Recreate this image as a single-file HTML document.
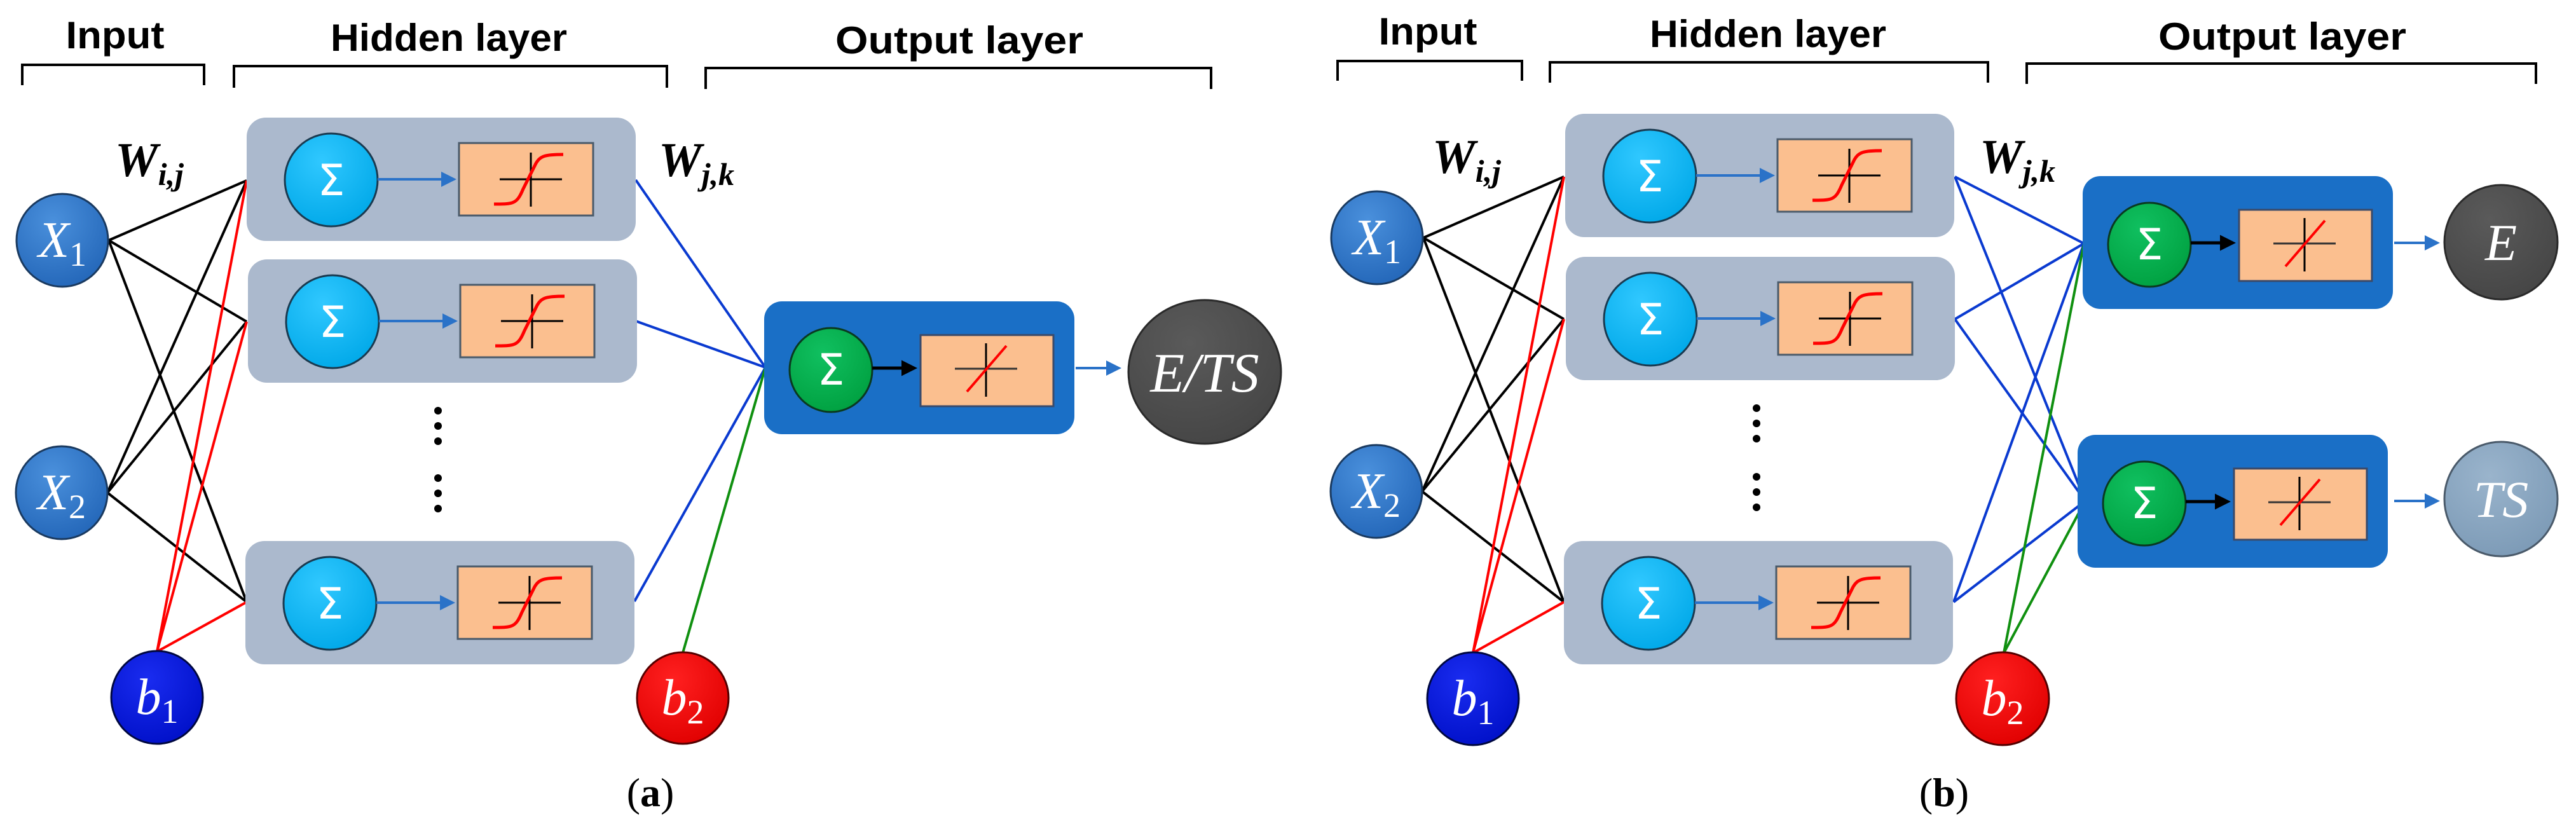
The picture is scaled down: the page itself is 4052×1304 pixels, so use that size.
<!DOCTYPE html>
<html><head><meta charset="utf-8"><style>
html,body{margin:0;padding:0;background:#fff;}
svg{display:block;}
.hd{font-family:"Liberation Sans",sans-serif;font-weight:bold;font-size:60px;fill:#000;}
.sig{font-family:"DejaVu Sans",sans-serif;font-size:68px;fill:#fff;}
.var{font-family:"Liberation Serif",serif;font-style:italic;fill:#fff;}
.sub{font-style:normal;}
.cap{font-family:"Liberation Serif",serif;font-size:64px;fill:#000;}
.w{font-family:"Liberation Serif",serif;font-style:italic;font-weight:bold;fill:#000;}
</style></head><body>
<svg width="4052" height="1304" viewBox="0 0 4052 1304" xmlns="http://www.w3.org/2000/svg">
<defs>
<radialGradient id="gx" cx="0.4" cy="0.3" r="0.75"><stop offset="0" stop-color="#4a90dc"/><stop offset="1" stop-color="#2366b8"/></radialGradient>
<radialGradient id="gs" cx="0.4" cy="0.3" r="0.75"><stop offset="0" stop-color="#30c8ff"/><stop offset="1" stop-color="#00a8e8"/></radialGradient>
<radialGradient id="gg" cx="0.4" cy="0.3" r="0.75"><stop offset="0" stop-color="#10c060"/><stop offset="1" stop-color="#00a040"/></radialGradient>
<radialGradient id="gb" cx="0.4" cy="0.3" r="0.75"><stop offset="0" stop-color="#1a2cf0"/><stop offset="1" stop-color="#0010c8"/></radialGradient>
<radialGradient id="gr" cx="0.4" cy="0.3" r="0.75"><stop offset="0" stop-color="#ff2020"/><stop offset="1" stop-color="#e00000"/></radialGradient>
<radialGradient id="gd" cx="0.4" cy="0.3" r="0.75"><stop offset="0" stop-color="#5a5a5a"/><stop offset="1" stop-color="#454545"/></radialGradient>
<radialGradient id="gt" cx="0.4" cy="0.3" r="0.75"><stop offset="0" stop-color="#9ab4cc"/><stop offset="1" stop-color="#7c9ab6"/></radialGradient>
<marker id="ab" markerWidth="6" markerHeight="6" refX="5" refY="3" orient="auto" markerUnits="strokeWidth"><path d="M0,0 L6,3 L0,6 Z" fill="#2a72c8"/></marker>
<marker id="ak" markerWidth="5" markerHeight="5" refX="4" refY="2.5" orient="auto" markerUnits="strokeWidth"><path d="M0,0 L5,2.5 L0,5 Z" fill="#000"/></marker>
<g id="hid">
  <rect x="0" y="0" width="612" height="194" rx="30" fill="#abb9cd"/>
  <ellipse cx="133" cy="98" rx="73" ry="73" fill="url(#gs)" stroke="#1a3a50" stroke-width="3"/>
  <text x="133" y="122" text-anchor="middle" class="sig">Σ</text>
  <line x1="206" y1="97" x2="326" y2="97" stroke="#2a72c8" stroke-width="4" marker-end="url(#ab)"/>
  <rect x="334" y="40" width="211" height="114" fill="#fbbf8f" stroke="#4a5a6a" stroke-width="3"/>
  <line x1="398" y1="97" x2="496" y2="97" stroke="#000" stroke-width="3"/>
  <line x1="447" y1="55" x2="447" y2="140" stroke="#000" stroke-width="3"/>
  <path d="M389,136 C420,136 425,136 435,112 L455,72 C462,60 470,58 498,58" fill="none" stroke="#f00" stroke-width="5"/>
</g>
<g id="out">
  <rect x="0" y="0" width="488" height="209" rx="28" fill="#1a6fc6"/>
  <ellipse cx="105" cy="108" rx="65" ry="66" fill="url(#gg)" stroke="#0a3a20" stroke-width="3"/>
  <text x="105" y="131" text-anchor="middle" class="sig">Σ</text>
  <line x1="170" y1="105" x2="236" y2="105" stroke="#000" stroke-width="5" marker-end="url(#ak)"/>
  <rect x="246" y="53" width="209" height="112" fill="#fbbf8f" stroke="#3a4a6a" stroke-width="3"/>
  <line x1="300" y1="106" x2="398" y2="106" stroke="#333" stroke-width="3"/>
  <line x1="349" y1="66" x2="349" y2="150" stroke="#000" stroke-width="3"/>
  <line x1="319" y1="142" x2="381" y2="70" stroke="#f00" stroke-width="4"/>
</g>
</defs>

<!-- ============ PANEL A ============ -->
<text x="181" y="76" text-anchor="middle" class="hd" textLength="155" lengthAdjust="spacingAndGlyphs">Input</text>
<path d="M35,134 V102 H321 V134" fill="none" stroke="#000" stroke-width="4"/>
<text x="706" y="80" text-anchor="middle" class="hd" textLength="372" lengthAdjust="spacingAndGlyphs">Hidden layer</text>
<path d="M368,138 V104 H1049 V138" fill="none" stroke="#000" stroke-width="4"/>
<text x="1509" y="84" text-anchor="middle" class="hd" textLength="390" lengthAdjust="spacingAndGlyphs">Output  layer</text>
<path d="M1110,140 V107 H1905 V140" fill="none" stroke="#000" stroke-width="4"/>

<text x="181" y="277" class="w" font-size="76">W<tspan font-size="50" dy="14">i,j</tspan></text>
<text x="1036" y="277" class="w" font-size="76">W<tspan font-size="50" dy="14">j,k</tspan></text>

<g stroke="#000" stroke-width="4">
<line x1="171" y1="378" x2="388" y2="284"/><line x1="171" y1="378" x2="388" y2="506"/><line x1="171" y1="378" x2="388" y2="947"/>
<line x1="169" y1="775" x2="388" y2="284"/><line x1="169" y1="775" x2="388" y2="506"/><line x1="169" y1="775" x2="388" y2="947"/>
</g>
<g stroke="#f00" stroke-width="4">
<line x1="247" y1="1025" x2="388" y2="284"/><line x1="247" y1="1025" x2="388" y2="506"/><line x1="247" y1="1025" x2="388" y2="947"/>
</g>
<g stroke="#0a3ad0" stroke-width="4">
<line x1="1000" y1="283" x2="1204" y2="578"/><line x1="1000" y1="505" x2="1204" y2="578"/><line x1="998" y1="946" x2="1204" y2="578"/>
</g>
<line x1="1074" y1="1027" x2="1204" y2="578" stroke="#109010" stroke-width="4"/>

<use href="#hid" x="388" y="185"/>
<use href="#hid" x="390" y="408"/>
<use href="#hid" x="386" y="851"/>
<g fill="#000"><circle cx="689" cy="646" r="6"/><circle cx="689" cy="670" r="6"/><circle cx="689" cy="694" r="6"/>
<circle cx="689" cy="752" r="6"/><circle cx="689" cy="776" r="6"/><circle cx="689" cy="800" r="6"/></g>

<ellipse cx="98" cy="378" rx="72" ry="73" fill="url(#gx)" stroke="#1a3a60" stroke-width="3"/>
<text x="98" y="404" text-anchor="middle" class="var" font-size="80">X<tspan class="sub" font-size="54" dy="14">1</tspan></text>
<ellipse cx="97" cy="775" rx="72" ry="73" fill="url(#gx)" stroke="#1a3a60" stroke-width="3"/>
<text x="97" y="801" text-anchor="middle" class="var" font-size="80">X<tspan class="sub" font-size="54" dy="14">2</tspan></text>
<ellipse cx="247" cy="1097" rx="72" ry="73" fill="url(#gb)" stroke="#000840" stroke-width="3"/>
<text x="247" y="1123" text-anchor="middle" class="var" font-size="80">b<tspan class="sub" font-size="54" dy="14">1</tspan></text>
<ellipse cx="1074" cy="1098" rx="72" ry="72" fill="url(#gr)" stroke="#500" stroke-width="3"/>
<text x="1074" y="1124" text-anchor="middle" class="var" font-size="80">b<tspan class="sub" font-size="54" dy="14">2</tspan></text>

<use href="#out" x="1202" y="474"/>
<line x1="1692" y1="579" x2="1760" y2="579" stroke="#2a72c8" stroke-width="4" marker-end="url(#ab)"/>
<ellipse cx="1895" cy="585" rx="120" ry="113" fill="url(#gd)" stroke="#2a2a2a" stroke-width="3"/>
<text x="1895" y="616" text-anchor="middle" class="var" font-size="88">E/TS</text>

<text x="1023" y="1268" text-anchor="middle" class="cap">(<tspan font-weight="bold">a</tspan>)</text>

<!-- ============ PANEL B ============ -->
<text x="2246" y="70" text-anchor="middle" class="hd" textLength="155" lengthAdjust="spacingAndGlyphs">Input</text>
<path d="M2104,127 V96 H2394 V127" fill="none" stroke="#000" stroke-width="4"/>
<text x="2781" y="74" text-anchor="middle" class="hd" textLength="372" lengthAdjust="spacingAndGlyphs">Hidden layer</text>
<path d="M2438,130 V98 H3127 V130" fill="none" stroke="#000" stroke-width="4"/>
<text x="3590" y="78" text-anchor="middle" class="hd" textLength="390" lengthAdjust="spacingAndGlyphs">Output  layer</text>
<path d="M3188,132 V100 H3989 V132" fill="none" stroke="#000" stroke-width="4"/>

<text x="2253" y="272" class="w" font-size="76">W<tspan font-size="50" dy="14">i,j</tspan></text>
<text x="3114" y="272" class="w" font-size="76">W<tspan font-size="50" dy="14">j,k</tspan></text>

<g stroke="#000" stroke-width="4">
<line x1="2239" y1="374" x2="2460" y2="278"/><line x1="2239" y1="374" x2="2460" y2="502"/><line x1="2239" y1="374" x2="2460" y2="947"/>
<line x1="2237" y1="773" x2="2460" y2="278"/><line x1="2237" y1="773" x2="2460" y2="502"/><line x1="2237" y1="773" x2="2460" y2="947"/>
</g>
<g stroke="#f00" stroke-width="4">
<line x1="2317" y1="1027" x2="2460" y2="278"/><line x1="2317" y1="1027" x2="2460" y2="502"/><line x1="2317" y1="1027" x2="2460" y2="947"/>
</g>
<g stroke="#0a3ad0" stroke-width="4">
<line x1="3075" y1="278" x2="3278" y2="383"/><line x1="3075" y1="502" x2="3278" y2="383"/><line x1="3073" y1="947" x2="3278" y2="383"/>
<line x1="3075" y1="278" x2="3280" y2="788"/><line x1="3075" y1="502" x2="3280" y2="788"/><line x1="3073" y1="947" x2="3280" y2="788"/>
</g>
<g stroke="#109010" stroke-width="4">
<line x1="3152" y1="1027" x2="3278" y2="383"/><line x1="3152" y1="1027" x2="3280" y2="788"/>
</g>

<use href="#hid" x="2462" y="179"/>
<use href="#hid" x="2463" y="404"/>
<use href="#hid" x="2460" y="851"/>
<g fill="#000"><circle cx="2763" cy="642" r="6"/><circle cx="2763" cy="666" r="6"/><circle cx="2763" cy="690" r="6"/>
<circle cx="2763" cy="750" r="6"/><circle cx="2763" cy="774" r="6"/><circle cx="2763" cy="798" r="6"/></g>

<ellipse cx="2166" cy="374" rx="72" ry="73" fill="url(#gx)" stroke="#1a3a60" stroke-width="3"/>
<text x="2166" y="400" text-anchor="middle" class="var" font-size="80">X<tspan class="sub" font-size="54" dy="14">1</tspan></text>
<ellipse cx="2165" cy="773" rx="72" ry="73" fill="url(#gx)" stroke="#1a3a60" stroke-width="3"/>
<text x="2165" y="799" text-anchor="middle" class="var" font-size="80">X<tspan class="sub" font-size="54" dy="14">2</tspan></text>
<ellipse cx="2317" cy="1099" rx="72" ry="73" fill="url(#gb)" stroke="#000840" stroke-width="3"/>
<text x="2317" y="1125" text-anchor="middle" class="var" font-size="80">b<tspan class="sub" font-size="54" dy="14">1</tspan></text>
<ellipse cx="3150" cy="1099" rx="73" ry="73" fill="url(#gr)" stroke="#500" stroke-width="3"/>
<text x="3150" y="1125" text-anchor="middle" class="var" font-size="80">b<tspan class="sub" font-size="54" dy="14">2</tspan></text>

<use href="#out" x="3276" y="277"/>
<use href="#out" x="3268" y="684"/>
<line x1="3766" y1="382" x2="3834" y2="382" stroke="#2a72c8" stroke-width="4" marker-end="url(#ab)"/>
<line x1="3766" y1="788" x2="3834" y2="788" stroke="#2a72c8" stroke-width="4" marker-end="url(#ab)"/>
<ellipse cx="3934" cy="381" rx="89" ry="90" fill="url(#gd)" stroke="#2a2a2a" stroke-width="3"/>
<text x="3934" y="409" text-anchor="middle" class="var" font-size="82">E</text>
<ellipse cx="3934" cy="785" rx="89" ry="90" fill="url(#gt)" stroke="#4a5a6a" stroke-width="3"/>
<text x="3934" y="813" text-anchor="middle" class="var" font-size="82">TS</text>

<text x="3058" y="1268" text-anchor="middle" class="cap">(<tspan font-weight="bold">b</tspan>)</text>
</svg>
</body></html>
